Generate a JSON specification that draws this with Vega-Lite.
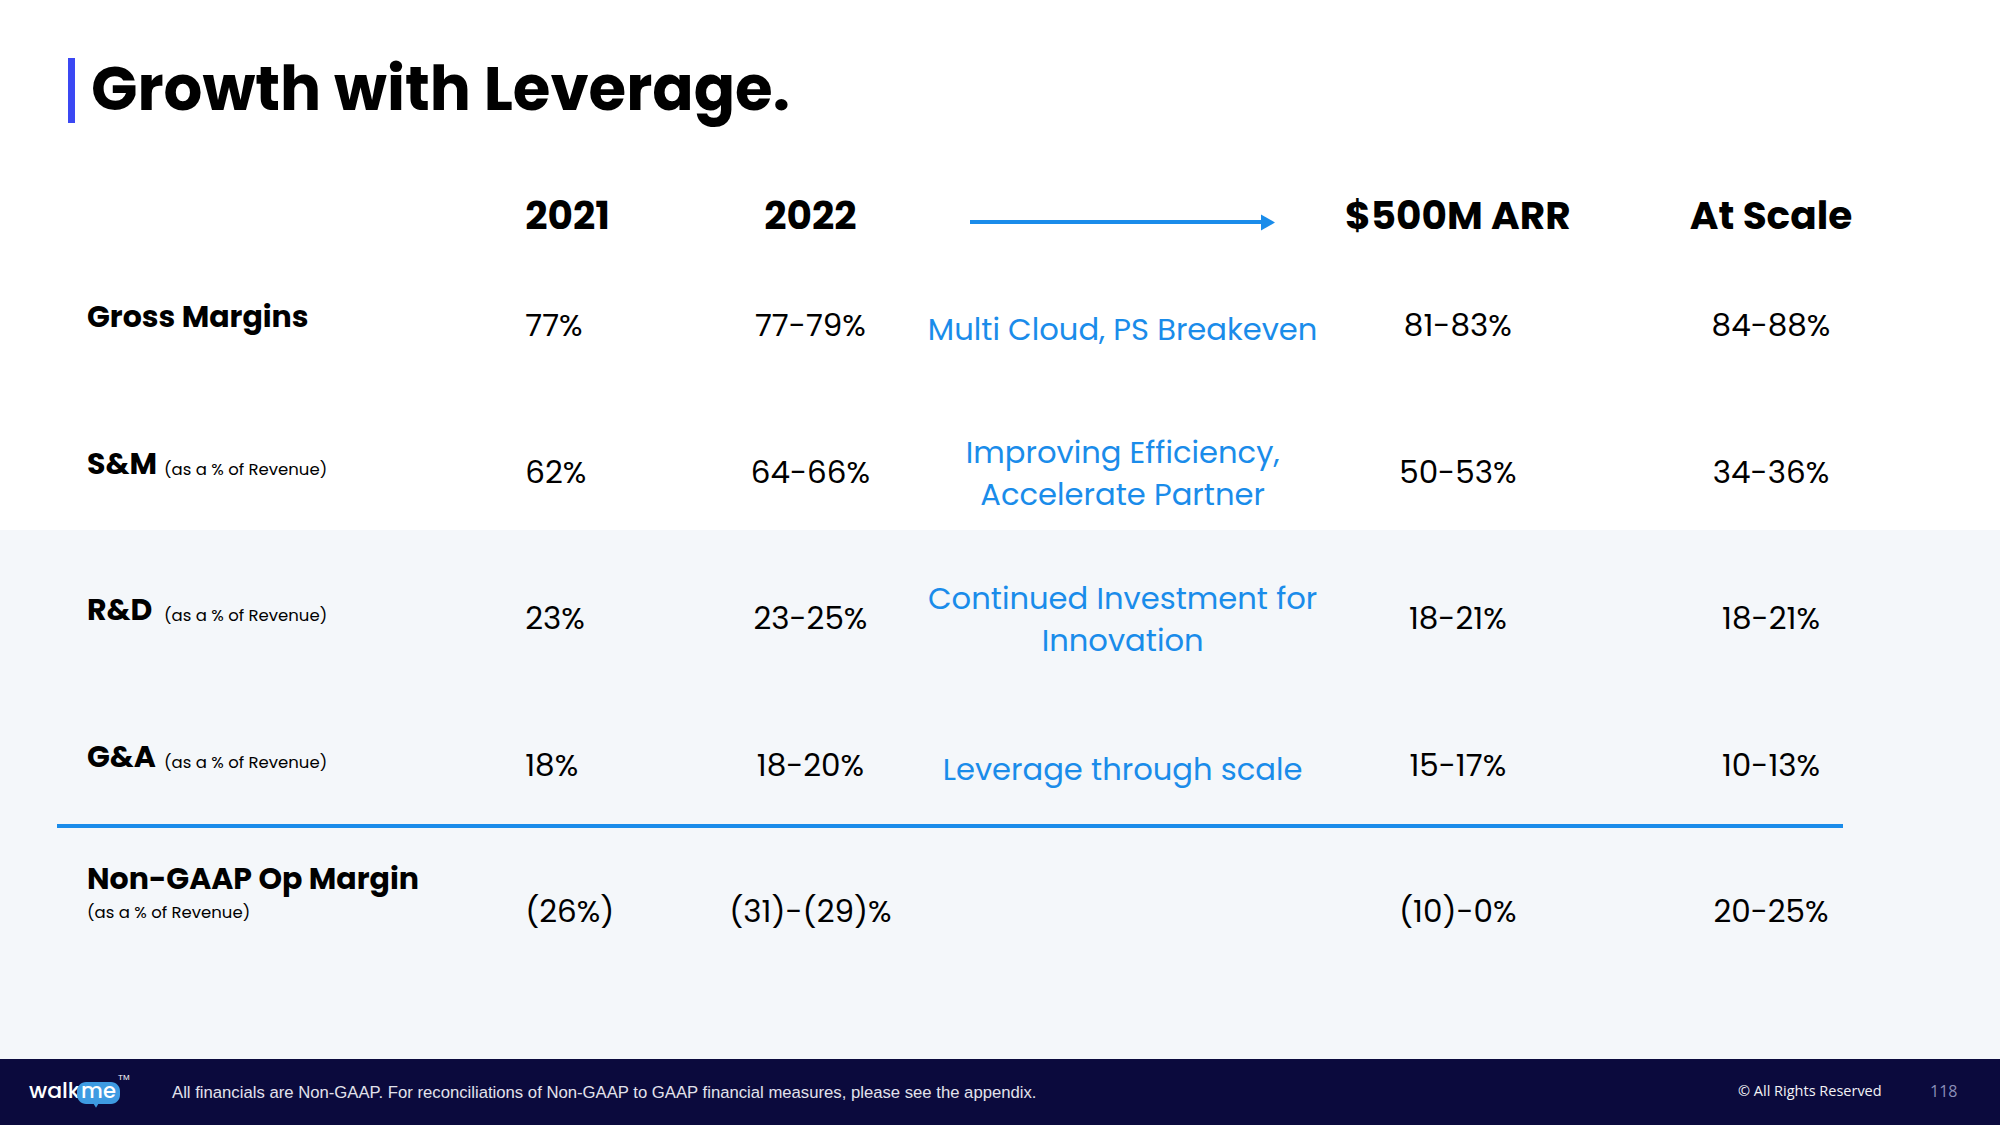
{
  "$schema": "https://vega.github.io/schema/vega-lite/v6.json",
  "width": 2000,
  "height": 1125,
  "autosize": {"type": "fit", "contains": "padding"},
  "padding": 0,
  "background": "#ffffff",
  "config": {"view": {"stroke": null}, "axis": {"disable": true}, "legend": {"disable": true}},
  "datasets": {
    "cells": [
      {"row": "header", "col": "2021", "text": "2021"},
      {"row": "header", "col": "2022", "text": "2022"},
      {"row": "header", "col": "$500M ARR", "text": "$500M ARR"},
      {"row": "header", "col": "At Scale", "text": "At Scale"},
      {"row": "Gross Margins", "col": "2021", "text": "77%"},
      {"row": "Gross Margins", "col": "2022", "text": "77-79%"},
      {"row": "Gross Margins", "col": "note", "text": "Multi Cloud, PS Breakeven"},
      {"row": "Gross Margins", "col": "$500M ARR", "text": "81-83%"},
      {"row": "Gross Margins", "col": "At Scale", "text": "84-88%"},
      {"row": "S&M", "col": "2021", "text": "62%"},
      {"row": "S&M", "col": "2022", "text": "64-66%"},
      {"row": "S&M", "col": "note", "text": "Improving Efficiency,\nAccelerate Partner"},
      {"row": "S&M", "col": "$500M ARR", "text": "50-53%"},
      {"row": "S&M", "col": "At Scale", "text": "34-36%"},
      {"row": "R&D", "col": "2021", "text": "23%"},
      {"row": "R&D", "col": "2022", "text": "23-25%"},
      {"row": "R&D", "col": "note", "text": "Continued Investment for\nInnovation"},
      {"row": "R&D", "col": "$500M ARR", "text": "18-21%"},
      {"row": "R&D", "col": "At Scale", "text": "18-21%"},
      {"row": "G&A", "col": "2021", "text": "18%"},
      {"row": "G&A", "col": "2022", "text": "18-20%"},
      {"row": "G&A", "col": "note", "text": "Leverage through scale"},
      {"row": "G&A", "col": "$500M ARR", "text": "15-17%"},
      {"row": "G&A", "col": "At Scale", "text": "10-13%"},
      {"row": "Non-GAAP Op Margin", "col": "2021", "text": "(26%)"},
      {"row": "Non-GAAP Op Margin", "col": "2022", "text": "(31)-(29)%"},
      {"row": "Non-GAAP Op Margin", "col": "$500M ARR", "text": "(10)-0%"},
      {"row": "Non-GAAP Op Margin", "col": "At Scale", "text": "20-25%"}
    ],
    "labels": [
      {"row": "Gross Margins", "name": "Gross Margins", "sub": ""},
      {"row": "S&M", "name": "S&M", "sub": "(as a % of Revenue)"},
      {"row": "R&D", "name": "R&D", "sub": "(as a % of Revenue)"},
      {"row": "G&A", "name": "G&A", "sub": "(as a % of Revenue)"},
      {"row": "Non-GAAP Op Margin", "name": "Non-GAAP Op Margin", "sub": "(as a % of Revenue)"}
    ]
  },
  "layer": [
    {
      "data": {"values": [{}]},
      "layer": [
        {
          "mark": {"type": "rect", "fill": "#F4F7FA"},
          "encoding": {
            "x": {"datum": 0, "type": "quantitative", "scale": {"domain": [0, 2000], "nice": false, "zero": false}},
            "x2": {"datum": 2000},
            "y": {"datum": 530, "type": "quantitative", "scale": {"domain": [0, 1125], "reverse": true, "nice": false, "zero": false}},
            "y2": {"datum": 1059}
          }
        },
        {
          "mark": {"type": "rect", "fill": "#0B0A3D"},
          "encoding": {
            "x": {"datum": 0, "type": "quantitative", "scale": {"domain": [0, 2000], "nice": false, "zero": false}},
            "x2": {"datum": 2000},
            "y": {"datum": 1059, "type": "quantitative", "scale": {"domain": [0, 1125], "reverse": true, "nice": false, "zero": false}},
            "y2": {"datum": 1125}
          }
        },
        {
          "mark": {"type": "rect", "fill": "#3B48F3"},
          "encoding": {
            "x": {"datum": 68, "type": "quantitative", "scale": {"domain": [0, 2000], "nice": false, "zero": false}},
            "x2": {"datum": 75},
            "y": {"datum": 58, "type": "quantitative", "scale": {"domain": [0, 1125], "reverse": true, "nice": false, "zero": false}},
            "y2": {"datum": 123}
          }
        },
        {
          "mark": {"type": "rule", "stroke": "#1A8CEA", "strokeWidth": 4},
          "encoding": {
            "x": {"datum": 57, "type": "quantitative", "scale": {"domain": [0, 2000], "nice": false, "zero": false}},
            "x2": {"datum": 1843},
            "y": {"datum": 826, "type": "quantitative", "scale": {"domain": [0, 1125], "reverse": true, "nice": false, "zero": false}}
          }
        },
        {
          "mark": {"type": "rule", "stroke": "#1A8CEA", "strokeWidth": 4},
          "encoding": {
            "x": {"datum": 970, "type": "quantitative", "scale": {"domain": [0, 2000], "nice": false, "zero": false}},
            "x2": {"datum": 1266},
            "y": {"datum": 222, "type": "quantitative", "scale": {"domain": [0, 1125], "reverse": true, "nice": false, "zero": false}}
          }
        },
        {
          "mark": {"type": "point", "shape": "triangle-right", "filled": true, "fill": "#1A8CEA", "size": 260, "opacity": 1},
          "encoding": {
            "x": {"datum": 1268, "type": "quantitative", "scale": {"domain": [0, 2000], "nice": false, "zero": false}},
            "y": {"datum": 222.5, "type": "quantitative", "scale": {"domain": [0, 1125], "reverse": true, "nice": false, "zero": false}}
          }
        },
        {
          "mark": {"type": "text", "text": "Growth with Leverage.", "align": "left", "baseline": "alphabetic", "font": "Poppins, Open Sans", "fontSize": 61, "fontWeight": "bold", "fill": "#000000"},
          "encoding": {
            "x": {"datum": 91, "type": "quantitative", "scale": {"domain": [0, 2000], "nice": false, "zero": false}},
            "y": {"datum": 110, "type": "quantitative", "scale": {"domain": [0, 1125], "reverse": true, "nice": false, "zero": false}}
          }
        },
        {
          "mark": {"type": "text", "text": "All financials are Non-GAAP. For reconciliations of Non-GAAP to GAAP financial measures, please see the appendix.", "align": "left", "baseline": "middle", "font": "Liberation Sans Narrow, Liberation Sans", "fontSize": 16.7, "fill": "#E2E2EC"},
          "encoding": {
            "x": {"datum": 172, "type": "quantitative", "scale": {"domain": [0, 2000], "nice": false, "zero": false}},
            "y": {"datum": 1093, "type": "quantitative", "scale": {"domain": [0, 1125], "reverse": true, "nice": false, "zero": false}}
          }
        },
        {
          "mark": {"type": "text", "text": "© All Rights Reserved", "align": "left", "baseline": "middle", "font": "Open Sans", "fontSize": 14.5, "fill": "#F2F2F6"},
          "encoding": {
            "x": {"datum": 1738, "type": "quantitative", "scale": {"domain": [0, 2000], "nice": false, "zero": false}},
            "y": {"datum": 1092, "type": "quantitative", "scale": {"domain": [0, 1125], "reverse": true, "nice": false, "zero": false}}
          }
        },
        {
          "mark": {"type": "text", "text": "118", "align": "left", "baseline": "middle", "font": "Open Sans", "fontSize": 16, "fill": "#8A8FB8"},
          "encoding": {
            "x": {"datum": 1930, "type": "quantitative", "scale": {"domain": [0, 2000], "nice": false, "zero": false}},
            "y": {"datum": 1092, "type": "quantitative", "scale": {"domain": [0, 1125], "reverse": true, "nice": false, "zero": false}}
          }
        },
        {
          "mark": {"type": "text", "text": "walk", "align": "left", "baseline": "middle", "font": "Poppins, Open Sans", "fontSize": 22, "fontWeight": 500, "fill": "#FFFFFF"},
          "encoding": {
            "x": {"datum": 29, "type": "quantitative", "scale": {"domain": [0, 2000], "nice": false, "zero": false}},
            "y": {"datum": 1091, "type": "quantitative", "scale": {"domain": [0, 1125], "reverse": true, "nice": false, "zero": false}}
          }
        },
        {
          "mark": {"type": "rect", "fill": "#3E9BE2", "cornerRadius": 9},
          "encoding": {
            "x": {"datum": 77, "type": "quantitative", "scale": {"domain": [0, 2000], "nice": false, "zero": false}},
            "x2": {"datum": 120},
            "y": {"datum": 1082, "type": "quantitative", "scale": {"domain": [0, 1125], "reverse": true, "nice": false, "zero": false}},
            "y2": {"datum": 1104}
          }
        },
        {
          "mark": {"type": "point", "shape": "triangle-down", "filled": true, "fill": "#3E9BE2", "size": 30, "opacity": 1},
          "encoding": {
            "x": {"datum": 96, "type": "quantitative", "scale": {"domain": [0, 2000], "nice": false, "zero": false}},
            "y": {"datum": 1105.5, "type": "quantitative", "scale": {"domain": [0, 1125], "reverse": true, "nice": false, "zero": false}}
          }
        },
        {
          "mark": {"type": "text", "text": "me", "align": "center", "baseline": "middle", "font": "Poppins, Open Sans", "fontSize": 21, "fontWeight": 500, "fill": "#FFFFFF"},
          "encoding": {
            "x": {"datum": 98.5, "type": "quantitative", "scale": {"domain": [0, 2000], "nice": false, "zero": false}},
            "y": {"datum": 1092, "type": "quantitative", "scale": {"domain": [0, 1125], "reverse": true, "nice": false, "zero": false}}
          }
        },
        {
          "mark": {"type": "text", "text": "TM", "align": "left", "baseline": "middle", "font": "Liberation Sans", "fontSize": 8, "fill": "#FFFFFF"},
          "encoding": {
            "x": {"datum": 118, "type": "quantitative", "scale": {"domain": [0, 2000], "nice": false, "zero": false}},
            "y": {"datum": 1078, "type": "quantitative", "scale": {"domain": [0, 1125], "reverse": true, "nice": false, "zero": false}}
          }
        }
      ]
    },
    {
      "encoding": {
        "x": {"field": "col", "type": "nominal", "scale": {"type": "point", "domain": ["label", "2021", "2022", "note", "$500M ARR", "At Scale"], "range": [170, 1771], "padding": 0}},
        "y": {"field": "row", "type": "nominal", "scale": {"type": "point", "domain": ["header", "Gross Margins", "S&M", "R&D", "G&A", "Non-GAAP Op Margin"], "range": [178.5, 911], "padding": 0}}
      },
      "layer": [
        {
          "data": {"name": "labels"},
          "transform": [{"filter": "datum.row !== 'Non-GAAP Op Margin'"}],
          "mark": {"type": "text", "align": "left", "baseline": "middle", "dx": -83, "dy": -7, "font": "Poppins, Open Sans", "fontSize": 30, "fontWeight": "bold", "fill": "#000000"},
          "encoding": {"x": {"datum": "label", "type": "nominal"}, "text": {"field": "name", "type": "nominal"}}
        },
        {
          "data": {"name": "labels"},
          "transform": [{"filter": "datum.row !== 'Non-GAAP Op Margin' && datum.sub !== ''"}],
          "mark": {"type": "text", "align": "left", "baseline": "middle", "dx": -6, "dy": -2, "font": "Poppins, Open Sans", "fontSize": 16.5, "fill": "#000000"},
          "encoding": {"x": {"datum": "label", "type": "nominal"}, "text": {"field": "sub", "type": "nominal"}}
        },
        {
          "data": {"name": "labels"},
          "transform": [{"filter": "datum.row === 'Non-GAAP Op Margin'"}],
          "mark": {"type": "text", "align": "left", "baseline": "middle", "dx": -83, "dy": -31, "font": "Poppins, Open Sans", "fontSize": 30, "fontWeight": "bold", "fill": "#000000"},
          "encoding": {"x": {"datum": "label", "type": "nominal"}, "text": {"field": "name", "type": "nominal"}}
        },
        {
          "data": {"name": "labels"},
          "transform": [{"filter": "datum.row === 'Non-GAAP Op Margin'"}],
          "mark": {"type": "text", "align": "left", "baseline": "middle", "dx": -83, "dy": 2, "font": "Poppins, Open Sans", "fontSize": 16.5, "fill": "#000000"},
          "encoding": {"x": {"datum": "label", "type": "nominal"}, "text": {"field": "sub", "type": "nominal"}}
        },
        {
          "data": {"name": "cells"},
          "transform": [{"filter": "datum.row !== 'header' && datum.col === '2021'"}],
          "mark": {"type": "text", "align": "left", "baseline": "middle", "dx": 35, "dy": 2, "font": "Poppins, Open Sans", "fontSize": 31, "fill": "#000000"},
          "encoding": {"text": {"field": "text", "type": "nominal"}}
        },
        {
          "data": {"name": "cells"},
          "transform": [{"filter": "datum.row !== 'header' && (datum.col === '2022' || datum.col === 'At Scale')"}],
          "mark": {"type": "text", "align": "center", "baseline": "middle", "dy": 2, "font": "Poppins, Open Sans", "fontSize": 31, "fill": "#000000"},
          "encoding": {"text": {"field": "text", "type": "nominal"}}
        },
        {
          "data": {"name": "cells"},
          "transform": [{"filter": "datum.row !== 'header' && datum.col === '$500M ARR'"}],
          "mark": {"type": "text", "align": "center", "baseline": "middle", "dx": 7, "dy": 2, "font": "Poppins, Open Sans", "fontSize": 31, "fill": "#000000"},
          "encoding": {"text": {"field": "text", "type": "nominal"}}
        },
        {
          "data": {"name": "cells"},
          "transform": [{"filter": "datum.col === 'note' && indexof(datum.text, '\\n') < 0"}],
          "mark": {"type": "text", "align": "center", "baseline": "middle", "dx": -8, "dy": 6, "font": "Poppins, Open Sans", "fontSize": 30.6, "fill": "#1A8CEA"},
          "encoding": {"text": {"field": "text", "type": "nominal"}}
        },
        {
          "data": {"name": "cells"},
          "transform": [{"filter": "datum.col === 'note' && indexof(datum.text, '\\n') >= 0"}],
          "mark": {"type": "text", "align": "center", "baseline": "middle", "dx": -8, "dy": -18, "lineBreak": "\n", "lineHeight": 42, "font": "Poppins, Open Sans", "fontSize": 30.6, "fill": "#1A8CEA"},
          "encoding": {"text": {"field": "text", "type": "nominal"}}
        },
        {
          "data": {"name": "cells"},
          "transform": [{"filter": "datum.row === 'header' && datum.col === '2021'"}],
          "mark": {"type": "text", "align": "left", "baseline": "middle", "dx": 35, "dy": 38.5, "font": "Poppins, Open Sans", "fontSize": 39, "fontWeight": "bold", "fill": "#000000"},
          "encoding": {"text": {"field": "text", "type": "nominal"}}
        },
        {
          "data": {"name": "cells"},
          "transform": [{"filter": "datum.row === 'header' && (datum.col === '2022' || datum.col === 'At Scale')"}],
          "mark": {"type": "text", "align": "center", "baseline": "middle", "dy": 38.5, "font": "Poppins, Open Sans", "fontSize": 39, "fontWeight": "bold", "fill": "#000000"},
          "encoding": {"text": {"field": "text", "type": "nominal"}}
        },
        {
          "data": {"name": "cells"},
          "transform": [{"filter": "datum.row === 'header' && datum.col === '$500M ARR'"}],
          "mark": {"type": "text", "align": "center", "baseline": "middle", "dx": 7, "dy": 38.5, "font": "Poppins, Open Sans", "fontSize": 39, "fontWeight": "bold", "fill": "#000000"},
          "encoding": {"text": {"field": "text", "type": "nominal"}}
        }
      ]
    }
  ],
  "resolve": {"scale": {"x": "independent", "y": "independent"}}
}
